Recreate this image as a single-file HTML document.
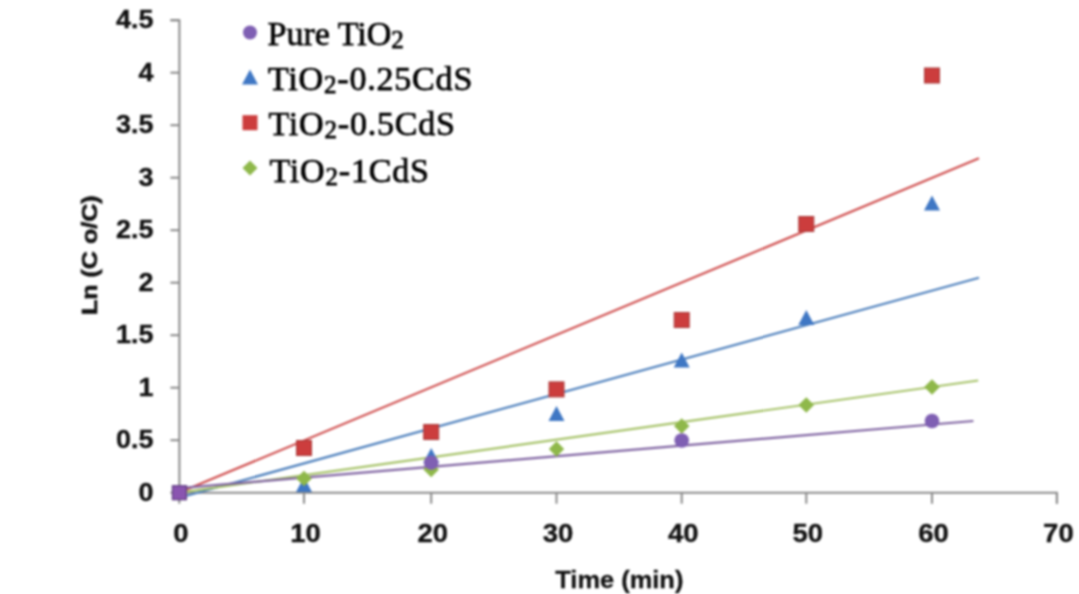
<!DOCTYPE html><html><head><meta charset="utf-8"><style>html,body{margin:0;padding:0;background:#fff;}svg{display:block;}.wrap{filter:blur(1px);width:1079px;height:594px;}</style></head><body>
<div class="wrap">
<svg width="1079" height="594" viewBox="0 0 1079 594">
<rect width="1079" height="594" fill="#ffffff"/>
<g stroke="#8a8a8a" stroke-width="2" fill="none" stroke-linecap="butt">
<path d="M170.4,20.2 H179.4 V492.7 H1056.9 V503.7"/>
<path d="M170.4,492.7 H179.4"/>
<path d="M170.4,440.2 H179.4"/>
<path d="M170.4,387.7 H179.4"/>
<path d="M170.4,335.2 H179.4"/>
<path d="M170.4,282.7 H179.4"/>
<path d="M170.4,230.2 H179.4"/>
<path d="M170.4,177.7 H179.4"/>
<path d="M170.4,125.2 H179.4"/>
<path d="M170.4,72.7 H179.4"/>
<path d="M170.4,20.2 H179.4"/>
<path d="M179.3,492.7 V503.7"/>
<path d="M304.0,492.7 V503.7"/>
<path d="M431.2,492.7 V503.7"/>
<path d="M556.5,492.7 V503.7"/>
<path d="M681.7,492.7 V503.7"/>
<path d="M806.3,492.7 V503.7"/>
<path d="M932.0,492.7 V503.7"/>
<path d="M1056.9,492.7 V503.7"/>
</g>
<g font-family="Liberation Sans, sans-serif" font-weight="bold" font-size="25" fill="#111" stroke="#111" stroke-width="0.3" text-anchor="end">
<text transform="translate(153.5,500.7) scale(1.08,1)">0</text>
<text transform="translate(153.5,448.2) scale(1.08,1)">0.5</text>
<text transform="translate(153.5,395.7) scale(1.08,1)">1</text>
<text transform="translate(153.5,343.2) scale(1.08,1)">1.5</text>
<text transform="translate(153.5,290.7) scale(1.08,1)">2</text>
<text transform="translate(153.5,238.2) scale(1.08,1)">2.5</text>
<text transform="translate(153.5,185.7) scale(1.08,1)">3</text>
<text transform="translate(153.5,133.2) scale(1.08,1)">3.5</text>
<text transform="translate(153.5,80.7) scale(1.08,1)">4</text>
<text transform="translate(153.5,28.2) scale(1.08,1)">4.5</text>
</g>
<g font-family="Liberation Sans, sans-serif" font-weight="bold" font-size="25" fill="#111" stroke="#111" stroke-width="0.3" text-anchor="middle">
<text transform="translate(180.8,541.5) scale(1.1,1)">0</text>
<text transform="translate(305.5,541.5) scale(1.1,1)">10</text>
<text transform="translate(432.7,541.5) scale(1.1,1)">20</text>
<text transform="translate(558.0,541.5) scale(1.1,1)">30</text>
<text transform="translate(683.2,541.5) scale(1.1,1)">40</text>
<text transform="translate(807.8,541.5) scale(1.1,1)">50</text>
<text transform="translate(933.5,541.5) scale(1.1,1)">60</text>
<text transform="translate(1058.4,541.5) scale(1.1,1)">70</text>
</g>
<text transform="translate(619.3,587.5) scale(1.06,1)" font-family="Liberation Sans, sans-serif" font-weight="bold" font-size="24" fill="#111" stroke="#111" stroke-width="0.3" text-anchor="middle">Time (min)</text>
<text transform="translate(97,255.2) rotate(-90) scale(1.14,1)" font-family="Liberation Sans, sans-serif" font-weight="bold" font-size="22" fill="#111" stroke="#111" stroke-width="0.6" text-anchor="middle">Ln (C o/C)</text>
<path d="M179.4,492.5 L979.0,158.3" stroke="#d05050" stroke-width="2.2" fill="none"/>
<path d="M179.4,497.7 L979.0,277.7" stroke="#4f81bd" stroke-width="2.2" fill="none"/>
<path d="M179.4,492.6 L978.2,380.5" stroke="#a7c36a" stroke-width="2.2" fill="none"/>
<path d="M179.4,488.1 L973.4,421.0" stroke="#8064a2" stroke-width="2.2" fill="none"/>
<rect x="296.5" y="440.5" width="15" height="15" fill="#cc3d3d" stroke="#a83a3a" stroke-width="1"/>
<rect x="423.7" y="424.5" width="15" height="15" fill="#cc3d3d" stroke="#a83a3a" stroke-width="1"/>
<rect x="549.0" y="381.9" width="15" height="15" fill="#cc3d3d" stroke="#a83a3a" stroke-width="1"/>
<rect x="674.2" y="312.5" width="15" height="15" fill="#cc3d3d" stroke="#a83a3a" stroke-width="1"/>
<rect x="798.8" y="216.5" width="15" height="15" fill="#cc3d3d" stroke="#a83a3a" stroke-width="1"/>
<rect x="924.5" y="68.0" width="15" height="15" fill="#cc3d3d" stroke="#a83a3a" stroke-width="1"/>
<path d="M304.0,477.0 L312.0,492.0 L296.0,492.0 Z" fill="#3f77c4"/>
<path d="M431.2,448.0 L439.2,463.0 L423.2,463.0 Z" fill="#3f77c4"/>
<path d="M556.5,406.0 L564.5,421.0 L548.5,421.0 Z" fill="#3f77c4"/>
<path d="M681.7,352.5 L689.7,367.5 L673.7,367.5 Z" fill="#3f77c4"/>
<path d="M806.3,310.0 L814.3,325.0 L798.3,325.0 Z" fill="#3f77c4"/>
<path d="M932.0,195.5 L940.0,210.5 L924.0,210.5 Z" fill="#3f77c4"/>
<path d="M304.0,470.8 L311.8,478.5 L304.0,486.2 L296.2,478.5 Z" fill="#8fb84a"/>
<path d="M431.2,461.8 L438.9,469.5 L431.2,477.2 L423.4,469.5 Z" fill="#8fb84a"/>
<path d="M556.5,441.2 L564.2,449.0 L556.5,456.8 L548.8,449.0 Z" fill="#8fb84a"/>
<path d="M681.7,418.2 L689.5,426.0 L681.7,433.8 L674.0,426.0 Z" fill="#8fb84a"/>
<path d="M806.3,397.2 L814.0,405.0 L806.3,412.8 L798.5,405.0 Z" fill="#8fb84a"/>
<path d="M932.0,379.2 L939.8,387.0 L932.0,394.8 L924.2,387.0 Z" fill="#8fb84a"/>
<circle cx="431.2" cy="462.7" r="7.3" fill="#7f5fb3"/>
<circle cx="681.7" cy="440.5" r="7.3" fill="#7f5fb3"/>
<circle cx="932.0" cy="421.0" r="7.3" fill="#7f5fb3"/>
<rect x="172.4" y="485.7" width="14" height="14" fill="#8a55b0" stroke="#5f3f80" stroke-width="1.2"/>
<circle cx="250" cy="32.5" r="7" fill="#7f5fb3"/>
<path d="M250,69.5 L258,84.5 L242,84.5 Z" fill="#3f77c4"/>
<rect x="242.5" y="115.2" width="15" height="15" fill="#cc3d3d"/>
<path d="M250,160.5 L257.5,168 L250,175.5 L242.5,168 Z" fill="#8fb84a"/>
<g font-family="Liberation Serif, serif" font-size="34" fill="#000" stroke="#000" stroke-width="0.75">
<text x="267.5" y="45.2">Pure TiO<tspan font-size="25" dy="3">2</tspan></text>
<text x="268" y="90.2" letter-spacing="0.8">TiO<tspan font-size="25" dy="3">2</tspan><tspan dy="-3">-0.25CdS</tspan></text>
<text x="268.5" y="134.6" letter-spacing="0.8">TiO<tspan font-size="25" dy="3">2</tspan><tspan dy="-3">-0.5CdS</tspan></text>
<text x="269.5" y="181.5" letter-spacing="0.8">TiO<tspan font-size="25" dy="3">2</tspan><tspan dy="-3">-1CdS</tspan></text>
</g>
</svg></div></body></html>
